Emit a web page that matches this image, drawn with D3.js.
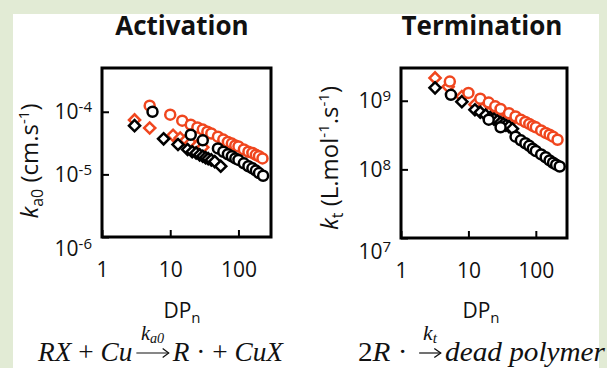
<!DOCTYPE html>
<html>
<head>
<meta charset="utf-8">
<script src="https://cdn.jsdelivr.net/npm/d3@7"></script>
<style>
  body { margin: 0; background: #e2ebd5; }
  svg { display: block; }
  text { font-family: "Open Sans", sans-serif; fill: #111; }
</style>
</head>
<body>
<svg id="chart"></svg>
<script>
const w = 607;
const h = 368;
const red = '#f0461e';

// ---- Activation panel: k_a0 (cm/s) vs DPn ----
const actRedDiaDP = [3, 5, 11, 14, 17, 20, 25, 30];
const actRedDiaK  = [7.4e-5, 5.5e-5, 4.2e-5, 3.8e-5, 3.5e-5, 3.2e-5, 2.9e-5, 2.7e-5];
const actBlkDiaDP = [3, 8, 13, 18, 21, 24, 27, 30, 33, 36, 40, 45, 55];
const actBlkDiaK  = [6.0e-5, 3.7e-5, 3.0e-5, 2.5e-5, 2.3e-5, 2.2e-5, 2.05e-5, 1.95e-5, 1.85e-5, 1.78e-5, 1.7e-5, 1.6e-5, 1.35e-5];
const actRedCirDP = [5, 10, 15, 20, 25, 30, 35, 40, 50, 60, 70, 80, 90, 100, 120, 140, 160, 180, 200, 225];
const actRedCirK  = [1.25e-4, 9.0e-5, 7.2e-5, 6.2e-5, 5.6e-5, 5.2e-5, 4.8e-5, 4.5e-5, 4.0e-5, 3.6e-5, 3.3e-5, 3.1e-5, 2.9e-5, 2.8e-5, 2.5e-5, 2.3e-5, 2.2e-5, 2.05e-5, 1.95e-5, 1.8e-5];
const actBlkCirDP = [5.5, 20, 30, 50, 60, 70, 80, 90, 100, 120, 140, 160, 180, 200, 230];
const actBlkCirK  = [1.0e-4, 4.3e-5, 3.5e-5, 2.6e-5, 2.3e-5, 2.1e-5, 1.95e-5, 1.8e-5, 1.7e-5, 1.5e-5, 1.35e-5, 1.25e-5, 1.15e-5, 1.05e-5, 9.5e-6];

// ---- Termination panel: k_t (L/mol/s) vs DPn ----
const terRedDiaDP = [3.2, 5, 8, 12.5, 16, 20, 25, 30, 35, 40];
const terRedDiaK  = [2.15e9, 1.6e9, 1.15e9, 8.8e8, 7.6e8, 6.6e8, 5.9e8, 5.4e8, 5.0e8, 4.7e8];
const terBlkDiaDP = [3.2, 8, 12.5, 15, 18, 21, 24, 27, 30, 33, 36, 40, 45];
const terBlkDiaK  = [1.54e9, 9.7e8, 7.4e8, 6.8e8, 6.2e8, 5.7e8, 5.4e8, 5.1e8, 4.8e8, 4.6e8, 4.4e8, 4.2e8, 3.9e8];
const terRedCirDP = [5.3, 10, 15, 20, 25, 30, 40, 50, 60, 70, 80, 90, 100, 120, 140, 160, 180, 210];
const terRedCirK  = [1.9e9, 1.3e9, 1.07e9, 9.4e8, 8.3e8, 7.6e8, 6.6e8, 5.9e8, 5.3e8, 4.9e8, 4.6e8, 4.3e8, 4.1e8, 3.7e8, 3.4e8, 3.2e8, 3.0e8, 2.7e8];
const terBlkCirDP = [5.5, 20, 30, 50, 60, 70, 80, 90, 100, 120, 140, 160, 180, 200, 226];
const terBlkCirK  = [1.22e9, 5.3e8, 4.1e8, 3.0e8, 2.65e8, 2.4e8, 2.2e8, 2.0e8, 1.85e8, 1.65e8, 1.5e8, 1.35e8, 1.25e8, 1.17e8, 1.1e8];

const xTicks = [1, 10, 100];
const actYTicks = [1e-6, 1e-5, 1e-4];
const terYTicks = [1e7, 1e8, 1e9];

const svg = d3.select('#chart')
  .attr('width', w)
  .attr('height', h);

svg.append('rect')
  .attr('x', 13).attr('y', 14)
  .attr('width', 586).attr('height', h - 14)
  .style('fill', 'white');

const zip = (a, b) => a.map((v, i) => [v, b[i]]);

function panel(o) {
  const g = svg.append('g');
  const x = d3.scaleLog().domain(o.xDomain).range(o.xRange);
  const y = d3.scaleLog().domain(o.yDomain).range(o.yRange);

  // series: red diamonds, black diamonds, red circles, black circles
  const dia = d3.symbol(d3.symbolSquare, 62);
  [[o.redDia, red], [o.blkDia, '#000']].forEach(([pts, c]) => {
    g.append('g').selectAll('path')
      .data(pts).enter().append('path')
      .attr('d', dia)
      .attr('transform', d => 'translate(' + x(d[0]) + ',' + y(d[1]) + ') rotate(45)')
      .style('fill', 'white').style('stroke', c).style('stroke-width', 2.5);
  });
  [[o.redCir, red], [o.blkCir, '#000']].forEach(([pts, c]) => {
    g.append('g').selectAll('circle')
      .data(pts).enter().append('circle')
      .attr('cx', d => x(d[0]))
      .attr('cy', d => y(d[1]))
      .attr('r', 5)
      .style('fill', 'white').style('stroke', c).style('stroke-width', 2.5);
  });

  const xAxis = d3.axisBottom(x).tickValues(xTicks).tickFormat(d3.format('d'))
    .tickSizeInner(-7).tickSizeOuter(0).tickPadding(25);
  const yAxis = d3.axisLeft(y).tickValues(o.yTicks).tickFormat(() => '10')
    .tickSizeInner(-7).tickSizeOuter(0).tickPadding(10);

  const gx = g.append('g').attr('transform', 'translate(0,' + o.yRange[0] + ')').call(xAxis);
  const gy = g.append('g').attr('transform', 'translate(' + o.xRange[0] + ',0)').call(yAxis);
  [gx, gy].forEach(a => {
    a.select('.domain').remove();
    a.selectAll('.tick line').style('stroke', '#000').style('stroke-width', 2);
    a.selectAll('.tick text')
      .style('font-family', '"Open Sans", sans-serif')
      .style('font-size', '21px').style('fill', '#111');
  });
  gy.selectAll('.tick text').each(function (d, i) {
    const t = d3.select(this);
    t.append('tspan').attr('dy', '-0.45em').style('font-size', '15px').text(Math.round(Math.log10(d)));
    if (i === 0) t.attr('y', o.bottomShift);
  });

  // frame
  g.append('rect')
    .attr('x', o.xRange[0]).attr('y', o.yRange[1])
    .attr('width', o.xRange[1] - o.xRange[0])
    .attr('height', o.yRange[0] - o.yRange[1])
    .style('fill', 'none').style('stroke', '#000').style('stroke-width', 3);

  // title
  g.append('text')
    .attr('x', o.titleX).attr('y', 35)
    .attr('text-anchor', 'middle')
    .style('font-size', '26px').style('font-weight', 'bold')
    .text(o.title);

  // x label
  const xl = g.append('text')
    .attr('x', o.xLabelX).attr('y', 318)
    .attr('text-anchor', 'middle')
    .style('font-size', '21px');
  xl.append('tspan').text('DP');
  xl.append('tspan').attr('dy', 5).style('font-size', '15px').text('n');

  // y label
  const yl = g.append('text')
    .attr('transform', 'translate(' + o.yLabelX + ',' + o.yLabelY + ') rotate(-90)')
    .attr('text-anchor', 'middle')
    .style('font-size', '24px');
  o.yLabel.forEach(p => {
    const t = yl.append('tspan').text(p.s);
    if (p.it) t.style('font-style', 'italic');
    if (p.size) t.style('font-size', p.size + 'px');
    if (p.dy) t.attr('dy', p.dy);
  });
}

panel({
  title: 'Activation', titleX: 182,
  xDomain: [1, 300], xRange: [102, 271],
  yDomain: [1e-6, 5e-4], yRange: [237, 68],
  yTicks: actYTicks, bottomShift: 12,
  redDia: zip(actRedDiaDP, actRedDiaK),
  blkDia: zip(actBlkDiaDP, actBlkDiaK),
  redCir: zip(actRedCirDP, actRedCirK),
  blkCir: zip(actBlkCirDP, actBlkCirK),
  xLabelX: 182,
  yLabelX: 38, yLabelY: 161,
  yLabel: [
    {s: 'k', it: true},
    {s: 'a0', size: 16, dy: 5},
    {s: '\u00a0(cm.s', dy: -5},
    {s: '-1', size: 15, dy: -9},
    {s: ')', dy: 9}
  ]
});

panel({
  title: 'Termination', titleX: 482,
  xDomain: [1, 290], xRange: [401, 567],
  yDomain: [1e7, 3e9], yRange: [238, 68],
  yTicks: terYTicks, bottomShift: 14,
  redDia: zip(terRedDiaDP, terRedDiaK),
  blkDia: zip(terBlkDiaDP, terBlkDiaK),
  redCir: zip(terRedCirDP, terRedCirK),
  blkCir: zip(terBlkCirDP, terBlkCirK),
  xLabelX: 481,
  yLabelX: 338, yLabelY: 158,
  yLabel: [
    {s: 'k', it: true},
    {s: 't', size: 16, dy: 5},
    {s: '\u00a0(L.mol', dy: -5},
    {s: '-1', size: 15, dy: -9},
    {s: '.s', dy: 9},
    {s: '-1', size: 15, dy: -9},
    {s: ')', dy: 9}
  ]
});

// equations under the panels
function equation(x0, x1, baseline, pieces) {
  const g = svg.append('g');
  let x = 0;
  pieces.forEach(p => {
    if (p.arrow) {
      x += 3;
      g.append('line')
        .attr('x1', x + 1).attr('x2', x + p.arrow - 1)
        .attr('y1', -8).attr('y2', -8)
        .style('stroke', '#111').style('stroke-width', 1.2);
      g.append('path')
        .attr('d', 'M' + (x + p.arrow - 7) + ',-12.5 L' + (x + p.arrow - 1) + ',-8 L' + (x + p.arrow - 7) + ',-3.5')
        .style('fill', 'none').style('stroke', '#111').style('stroke-width', 1.2);
      const lab = g.append('text')
        .attr('x', x + p.arrow / 2).attr('y', -21)
        .attr('text-anchor', 'middle')
        .style('font-family', '"Liberation Serif", serif')
        .style('font-style', 'italic').style('font-size', '20px');
      lab.append('tspan').text('k');
      lab.append('tspan').attr('dy', 3).style('font-size', '14px').text(p.sub);
      x += p.arrow + 3;
    } else {
      const t = g.append('text')
        .attr('x', x).attr('y', 0)
        .style('white-space', 'pre')
        .style('font-family', '"Liberation Serif", serif')
        .style('font-style', p.it ? 'italic' : 'normal')
        .style('font-size', '27px')
        .text(p.s);
      x += t.node().getComputedTextLength();
    }
  });
  const f = (x1 - x0) / x;
  g.attr('transform', 'translate(' + x0 + ',' + baseline + ') scale(' + f + ',1)');
}

equation(38, 283, 361, [
  {s: 'RX', it: true}, {s: ' + '}, {s: 'Cu', it: true},
  {arrow: 34, sub: 'a0'},
  {s: 'R', it: true}, {s: ' \u00b7 + '}, {s: 'CuX', it: true}
]);
equation(358, 605, 361, [
  {s: '2'}, {s: 'R', it: true}, {s: ' \u00b7 '},
  {arrow: 22, sub: 't'},
  {s: 'dead polymer', it: true}
]);
</script>
</body>
</html>
